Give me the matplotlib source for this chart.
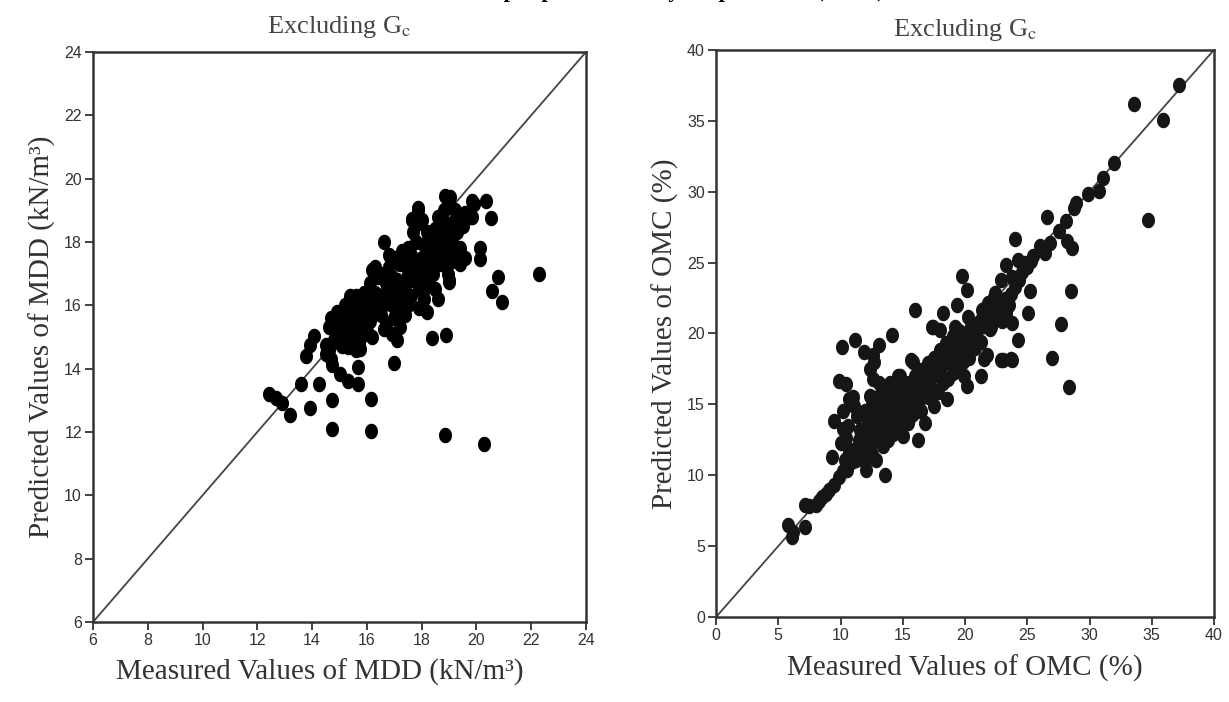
import numpy as np
import matplotlib.pyplot as plt
from matplotlib.path import Path

plt.rcParams['mathtext.fontset'] = 'stix'

# ---- MDD (left panel): measured, predicted (kN/m3) ----
mdd_points = [
    # lower arm around 14-16
    (14.6, 14.6), (14.7, 14.3), (14.8, 14.9), (14.6, 15.3), (14.7, 15.6), (14.9, 15.8),
    (15.0, 15.4), (15.1, 15.1), (15.0, 14.8), (15.2, 15.7), (15.3, 16.0), (15.4, 16.3),
    (15.5, 15.6), (15.6, 15.9), (15.7, 16.2), (15.3, 15.3), (15.5, 15.1), (15.7, 15.4),
    (15.9, 15.7), (15.8, 15.0), (15.1, 14.7), (15.4, 14.9), (15.6, 14.6), (15.8, 16.1),
    (15.9, 16.4), (15.6, 16.3), (15.2, 16.0), (14.9, 15.2), (15.7, 14.8), (15.4, 15.8),
    (14.8, 15.4), (15.1, 15.5), (15.4, 15.5), (15.6, 15.3), (15.9, 15.3), (15.2, 15.9),
    # 16-17
    (16.0, 15.2), (16.1, 15.5), (16.2, 15.9), (16.0, 16.3), (16.1, 16.7), (16.2, 17.1),
    (16.3, 17.2), (16.4, 16.9), (16.3, 16.4), (16.4, 16.1), (16.5, 15.7), (16.2, 15.0),
    (16.6, 16.3), (16.7, 16.7), (16.6, 17.0), (16.8, 16.3), (16.9, 16.9), (16.8, 17.2),
    (17.0, 17.5), (16.9, 16.0), (17.0, 15.6), (17.1, 15.9), (17.0, 16.4), (17.1, 16.8),
    (17.2, 17.3), (17.3, 17.7), (16.7, 15.4), (16.9, 15.1), (17.2, 15.3), (17.1, 14.9),
    (16.5, 16.9), (16.8, 17.6), (16.1, 16.0), (16.6, 16.0), (16.9, 16.6), (17.2, 16.5),
    # 17.3-18.4
    (17.3, 16.2), (17.4, 16.6), (17.5, 17.0), (17.4, 17.4), (17.5, 17.8), (17.6, 16.3),
    (17.7, 16.8), (17.6, 17.6), (17.8, 17.2), (17.8, 18.0), (17.7, 18.3), (17.9, 18.6),
    (17.9, 16.5), (18.0, 16.9), (18.0, 17.5), (18.1, 17.9), (18.2, 18.3), (18.0, 18.7),
    (18.1, 16.2), (18.2, 15.8), (17.9, 15.9), (18.3, 16.6), (18.3, 17.2), (18.3, 17.7),
    (17.5, 16.0), (17.4, 15.7), (17.85, 19.0), (17.65, 18.7), (18.4, 18.1), (17.8, 16.9),
    (18.1, 17.3), (18.2, 18.0),
    # 18.4-20
    (18.5, 17.5), (18.5, 18.4), (18.6, 18.0), (18.6, 18.8), (18.7, 17.3), (18.7, 17.8),
    (18.8, 18.3), (18.8, 19.0), (18.9, 17.6), (18.9, 18.6), (18.85, 19.45), (19.0, 17.9),
    (19.0, 18.4), (19.0, 19.1), (19.1, 17.4), (19.1, 18.1), (19.2, 18.7), (19.2, 19.0),
    (19.3, 17.6), (19.3, 18.3), (19.4, 18.8), (19.4, 17.8), (19.5, 18.5), (19.6, 18.9),
    (19.6, 17.5), (19.0, 16.8), (18.95, 17.0), (19.8, 18.8), (19.9, 19.2), (19.85, 18.8),
    (18.4, 17.0), (18.5, 16.5), (18.6, 16.2), (19.4, 17.3), (19.04, 19.43), (19.84, 19.3),
    # scattered points
    (22.3, 17.0), (20.35, 19.3), (20.54, 18.75), (20.13, 17.8), (20.13, 17.45),
    (20.8, 16.9), (20.57, 16.45), (20.93, 16.1), (20.28, 11.63), (18.85, 11.9),
    (18.89, 15.06), (18.38, 14.96), (16.99, 14.18), (16.63, 15.25), (16.63, 18.0),
    (16.16, 12.03), (16.16, 13.05), (14.73, 12.09), (14.73, 13.0), (13.93, 12.77),
    (14.26, 13.5), (13.6, 13.5), (13.2, 12.55), (12.42, 13.19), (12.69, 13.08),
    (12.9, 12.9), (13.78, 14.4), (13.93, 14.75), (14.07, 15.04), (15.68, 13.5),
    (15.31, 13.6), (15.02, 13.83), (14.73, 14.1), (14.5, 14.47), (14.5, 14.75),
    (15.68, 14.04), (15.75, 14.61), (15.31, 14.68), (19.0, 16.74), (17.87, 19.08),
    (17.65, 18.72),
]
mdd_measured = [p[0] for p in mdd_points]
mdd_predicted = [p[1] for p in mdd_points]

# ---- OMC (right panel): measured, predicted (%) ----
omc_points = [
    # low end along the line
    (5.77, 6.46), (6.1, 5.63), (6.2, 6.0), (7.18, 6.34), (7.18, 7.89), (7.5, 7.8),
    (8.0, 7.89), (8.3, 8.2), (8.54, 8.48), (8.8, 8.7), (9.08, 8.95), (9.49, 9.31),
    (9.89, 9.9), (10.2, 10.3), (10.5, 10.4), (10.7, 10.8), (9.3, 11.28), (10.4, 11.1),
    # main band
    (10.5, 11.2), (10.8, 11.8), (11.0, 11.0), (11.2, 11.5), (11.4, 12.0), (11.5, 11.3),
    (11.7, 11.8), (11.8, 12.4), (12.0, 11.6), (12.1, 12.2), (12.3, 12.9), (12.4, 12.0),
    (12.6, 12.6), (12.8, 13.2), (12.9, 12.5), (13.0, 13.0), (13.2, 13.6), (13.3, 12.8),
    (13.5, 13.3), (13.6, 14.0), (13.8, 13.6), (14.0, 14.2), (14.1, 13.5), (14.3, 14.6),
    (14.4, 13.9), (14.6, 14.4), (14.7, 15.0), (14.9, 14.6), (15.0, 15.3), (15.2, 14.9),
    (15.3, 15.6), (15.5, 15.2), (15.6, 15.9), (15.8, 15.5), (16.0, 16.2), (16.1, 15.8),
    (16.3, 16.6), (16.5, 16.2), (16.6, 16.9), (16.8, 16.5), (17.0, 17.2), (17.1, 16.8),
    (17.3, 17.5), (17.5, 17.1), (17.6, 17.8), (17.8, 17.4), (18.0, 18.1), (18.1, 17.6),
    (18.3, 18.4), (18.5, 18.0), (18.6, 18.7), (18.8, 18.3), (19.0, 19.0), (19.1, 18.6),
    (19.3, 19.3), (19.5, 18.9), (19.6, 19.6), (19.8, 19.2), (20.0, 19.9), (20.2, 19.5),
    (20.4, 20.3), (20.6, 19.9), (20.8, 20.6), (21.0, 20.2), (21.2, 20.9), (21.5, 20.5),
    (21.7, 21.3), (22.0, 21.0), (22.2, 21.6), (22.5, 21.2), (22.7, 22.0), (23.0, 21.7),
    (23.2, 22.4), (23.5, 22.0), (23.7, 22.8), (24.0, 23.3), (24.3, 23.8), (24.6, 24.3),
    (25.0, 24.7), (25.3, 25.1),
    # extra band filling
    (11.9, 11.1), (12.2, 11.2), (12.5, 11.5), (12.0, 12.8), (11.5, 12.5), (13.8, 12.5),
    (14.2, 12.9), (14.5, 13.3), (14.8, 13.8), (15.5, 14.0), (13.0, 14.0), (13.5, 14.5),
    (14.0, 15.0), (14.5, 15.5), (15.0, 16.0), (15.5, 16.5), (16.0, 17.0), (16.5, 17.4),
    (17.0, 17.9), (17.5, 18.3), (18.0, 18.8), (18.5, 19.3), (19.0, 19.8), (19.5, 20.2),
    (16.0, 15.0), (17.0, 16.0), (18.0, 16.9), (19.0, 17.9), (20.0, 18.8), (21.0, 19.6),
    (22.0, 20.3), (23.0, 20.9), (22.3, 22.6), (21.5, 21.7), (23.8, 24.0),
    # above the band, 10-15
    (10.2, 14.5), (10.6, 13.5), (11.0, 15.5), (11.3, 14.2), (11.6, 13.2), (12.0, 14.5),
    (12.2, 13.8), (12.5, 15.0), (12.8, 14.3), (13.0, 15.5), (13.3, 14.9), (13.7, 15.8),
    (14.0, 16.5), (14.3, 16.2), (14.6, 17.0), (13.1, 16.5), (12.6, 16.8),
    (9.49, 13.82), (9.89, 16.67), (10.43, 16.44), (10.7, 15.37), (11.11, 14.89),
    (10.16, 13.23), (10.43, 12.64), (10.03, 12.28), (10.7, 11.8), (11.25, 11.09),
    (12.06, 10.38), (13.55, 10.02), (13.41, 12.04), (12.87, 11.09), (12.33, 17.5),
    (12.6, 18.46), (12.33, 15.6), (12.87, 14.89), (13.41, 15.37), (14.09, 16.08),
    (14.77, 17.03), (15.85, 17.98),
    # below the band, 15-24
    (15.04, 13.94), (15.04, 12.76), (16.26, 12.52), (16.8, 13.7), (17.48, 14.89),
    (18.56, 15.37), (20.19, 16.32), (19.92, 17.03), (21.27, 17.03), (21.54, 18.22),
    (22.9, 18.1), (23.71, 18.22), (15.4, 13.7), (15.8, 14.3), (16.2, 15.0), (16.5, 14.5),
    (17.0, 15.5), (17.4, 16.0), (17.8, 15.9), (18.2, 16.5), (18.6, 16.8), (19.0, 17.2),
    (19.4, 17.6), (19.8, 18.0), (20.3, 18.3), (20.8, 19.0), (21.3, 19.4), (21.8, 18.5),
    # upper part
    (10.1, 19.05), (11.19, 19.57), (11.87, 18.7), (13.09, 19.17), (14.17, 19.88),
    (12.68, 17.99), (15.66, 18.11), (17.46, 20.47), (18.0, 20.24), (16.02, 21.65),
    (18.27, 21.42), (17.32, 20.47), (19.19, 20.47), (20.27, 21.18), (21.35, 21.65),
    (21.49, 20.95), (20.81, 20.47), (22.12, 20.47), (19.76, 24.02), (20.16, 23.07),
    (19.35, 22.01), (21.84, 22.13), (22.39, 22.84), (22.66, 21.89), (23.33, 21.42),
    (22.93, 23.78), (23.33, 24.85), (23.74, 20.71), (24.28, 19.53), (23.06, 18.11),
    (23.74, 18.16), (24.28, 25.2), (24.82, 24.96), (25.5, 25.44), (24.01, 26.67),
    (25.23, 22.96), (25.04, 21.42), (26.04, 26.15), (26.45, 25.67), (26.86, 26.38),
    (27.53, 27.21), (28.08, 27.92), (26.59, 28.23), (28.21, 26.5), (28.62, 26.03),
    (28.54, 22.96), (27.75, 20.66), (27.0, 18.3), (28.37, 16.2), (28.75, 28.87),
    (28.89, 29.22), (29.84, 29.81), (30.79, 30.05), (31.06, 30.99), (32.0, 32.0),
    (34.66, 27.99), (35.88, 35.08), (33.58, 36.19), (37.15, 37.5),
]
omc_measured = [p[0] for p in omc_points]
omc_predicted = [p[1] for p in omc_points]

mdd_ticks = [6, 8, 10, 12, 14, 16, 18, 20, 22, 24]
omc_ticks = [0, 5, 10, 15, 20, 25, 30, 35, 40]

# slightly tall elliptical dot like the original
t = np.linspace(0, 2 * np.pi, 40)
dot = Path(np.column_stack([0.42 * np.cos(t), 0.5 * np.sin(t)]))

serif = 'Liberation Serif'
gray = '#333333'

fig = plt.figure(figsize=(12.29, 7.02), dpi=100)
ax1 = fig.add_axes([0.0757, 0.114, 0.4011, 0.812])
ax2 = fig.add_axes([0.5826, 0.121, 0.4052, 0.808])


def style(ax, lims, ticks, xlabel, ylabel, title_pad):
    ax.plot(lims, lims, color='#444444', lw=1.3, zorder=1)
    ax.set_xlim(lims)
    ax.set_ylim(lims)
    ax.set_xticks(ticks)
    ax.set_yticks(ticks)
    ax.tick_params(direction='out', length=6, width=1.3, color=gray, pad=2,
                   labelsize=11.5, labelcolor=gray, top=False, right=False)
    for lab in ax.get_xticklabels() + ax.get_yticklabels():
        lab.set_family('Liberation Sans')
    for s in ax.spines.values():
        s.set_linewidth(1.8)
        s.set_color(gray)
    ax.set_xlabel(xlabel, family=serif, fontsize=21, color=gray, labelpad=8)
    ax.set_ylabel(ylabel, family=serif, fontsize=21, color=gray, labelpad=6)
    ax.set_title(r'Excluding G$_\mathrm{c}$', family=serif, fontsize=19,
                 color='#444444', pad=title_pad)


ax1.scatter(mdd_measured, mdd_predicted, s=125, marker=dot, color='black',
            linewidths=0, zorder=2)
style(ax1, [6, 24], mdd_ticks, 'Measured Values of MDD (kN/m³)',
      'Predicted Values of MDD (kN/m³)', 14)
ax1.xaxis.set_label_coords(0.46, -0.065)

ax2.scatter(omc_measured, omc_predicted, s=125, marker=dot, color='#151515',
            linewidths=0, zorder=2)
style(ax2, [0, 40], omc_ticks, 'Measured Values of OMC (%)',
      'Predicted Values of OMC (%)', 10)

# caption line of the page, cut off at the top edge
fig.text(0.395, 1.004, 'input parameters by simple model (MDD)', family=serif,
         fontweight='bold', fontsize=16, ha='left', va='baseline', color='black')

fig.savefig('out.png', dpi=100)
